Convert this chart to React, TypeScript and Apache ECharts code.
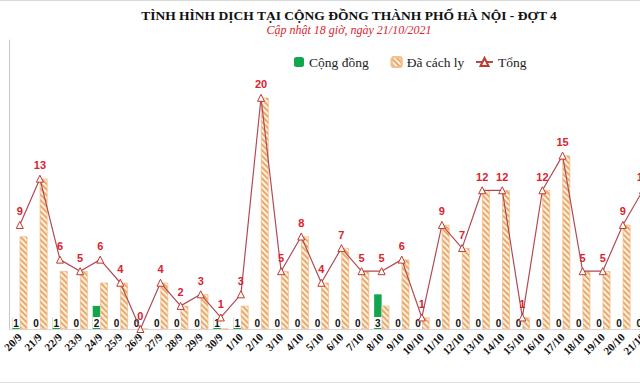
import React, { useEffect, useRef } from "react";
import * as echarts from "echarts";

const categories = [
  "20/9", "21/9", "22/9", "23/9", "24/9", "25/9", "26/9", "27/9", "28/9", "29/9", "30/9",
  "1/10", "2/10", "3/10", "4/10", "5/10", "6/10", "7/10", "8/10", "9/10", "10/10",
  "11/10", "12/10", "13/10", "14/10", "15/10", "16/10", "17/10", "18/10", "19/10", "20/10", "21/10",
];
const congDong = [1, 0, 1, 0, 2, 0, 0, 0, 0, 0, 1, 1, 0, 0, 0, 0, 0, 0, 3, 0, 0, 0, 0, 0, 0, 0, 0, 0, 0, 0, 0, 0];
const daCachLy = [8, 13, 5, 5, 4, 4, 0, 4, 2, 3, 0, 2, 20, 5, 8, 4, 7, 5, 2, 6, 1, 9, 7, 12, 12, 1, 12, 15, 5, 5, 9, 12];
const tong = [9, 13, 6, 5, 6, 4, 0, 4, 2, 3, 1, 3, 20, 5, 8, 4, 7, 5, 5, 6, 1, 9, 7, 12, 12, 1, 12, 15, 5, 5, 9, 12];

const titleText = "TÌNH HÌNH DỊCH TẠI CỘNG ĐỒNG THÀNH PHỐ HÀ NỘI - ĐỢT 4";
const subText = "Cập nhật 18 giờ, ngày 21/10/2021";

export default function App() {
  const ref = useRef<HTMLDivElement>(null);
  useEffect(() => {
    if (!ref.current) return;
    const chart = echarts.init(ref.current, undefined, { renderer: "svg" });
    const serif = "'Liberation Serif', 'Times New Roman', serif";
    const sans = "'Liberation Sans', Arial, sans-serif";
    chart.setOption({
      animation: false,
      backgroundColor: "#ffffff",
      title: [
        {
          text: titleText,
          left: 349,
          top: 8,
          textAlign: "center",
          padding: 0,
          textStyle: { fontFamily: serif, fontWeight: "bold", fontSize: 13.5, color: "#111" },
        },
        {
          text: subText,
          left: 349,
          top: 24,
          textAlign: "center",
          padding: 0,
          textStyle: { fontFamily: serif, fontStyle: "italic", fontWeight: "normal", fontSize: 12, color: "#d9232e" },
        },
      ],
      legend: [
        {
          data: ["Cộng đồng", "Đã cách ly"],
          left: 294,
          top: 55,
          padding: 0,
          itemWidth: 10,
          itemHeight: 10,
          itemGap: 22,
          textStyle: { fontFamily: serif, fontSize: 13.5, color: "#222" },
        },
        {
          data: ["Tổng"],
          left: 475,
          top: 55,
          padding: 0,
          itemWidth: 17,
          itemHeight: 10,
          textStyle: { fontFamily: serif, fontSize: 13.5, color: "#222" },
        },
      ],
      grid: { left: 7, top: 40, width: 646, height: 289, containLabel: false },
      xAxis: {
        type: "category",
        data: categories,
        axisLine: { show: true, lineStyle: { color: "#d9d9d9", width: 1 } },
        axisTick: { show: false },
        axisLabel: {
          interval: 0,
          rotate: 45,
          margin: 6,
          fontFamily: serif,
          fontWeight: "bold",
          fontSize: 11,
          color: "#111",
        },
      },
      yAxis: {
        type: "value",
        min: 0,
        max: 25,
        axisLine: { show: true, lineStyle: { color: "#c8c8c8", width: 1 } },
        axisTick: { show: false },
        axisLabel: { show: false },
        splitLine: { show: false },
      },
      graphic: [
        { type: "line", shape: { x1: 0, y1: 0.5, x2: 700, y2: 0.5 }, style: { stroke: "#d9d9d9", lineWidth: 1 } },
        { type: "line", shape: { x1: 0, y1: 382.5, x2: 700, y2: 382.5 }, style: { stroke: "#e0e0e0", lineWidth: 1 } },
      ],
      series: [
        {
          name: "Cộng đồng",
          type: "bar",
          data: congDong,
          barWidth: 7.5,
          barGap: "0%",
          itemStyle: { color: "#12a64e" },
          label: {
            show: true,
            position: "insideBottom",
            distance: 1,
            fontFamily: sans,
            fontWeight: "bold",
            fontSize: 10,
            color: "#111",
            backgroundColor: "#ffffff",
            padding: [1, 1, 0, 1],
          },
        },
        {
          name: "Đã cách ly",
          type: "bar",
          data: daCachLy,
          barWidth: 7.5,
          barGap: "0%",
          itemStyle: {
            color: "#fdf2e7",
            borderColor: "#f3c08f",
            borderWidth: 0.5,
            decal: {
              symbol: "rect",
              symbolSize: 1,
              color: "#eda865",
              dashArrayX: [1, 0],
              dashArrayY: [1.2, 1.6],
              rotation: Math.PI / 4,
            },
          },
        },
        {
          name: "Tổng",
          type: "line",
          data: tong,
          symbol: "triangle",
          symbolSize: 7,
          showAllSymbol: true,
          lineStyle: { color: "#b24a55", width: 1.2 },
          itemStyle: { color: "#ffffff", borderColor: "#c0392b", borderWidth: 1 },
          label: {
            show: true,
            position: "top",
            distance: 4,
            fontFamily: sans,
            fontWeight: "bold",
            fontSize: 11,
            color: "#d9232e",
          },
          z: 5,
        },
      ],
    });
    return () => chart.dispose();
  }, []);
  return (
    <div style={{ position: "fixed", left: 0, top: 0, width: 640, height: 384, overflow: "hidden", background: "#fff" }}>
      <div ref={ref} style={{ width: 700, height: 384 }} />
    </div>
  );
}
